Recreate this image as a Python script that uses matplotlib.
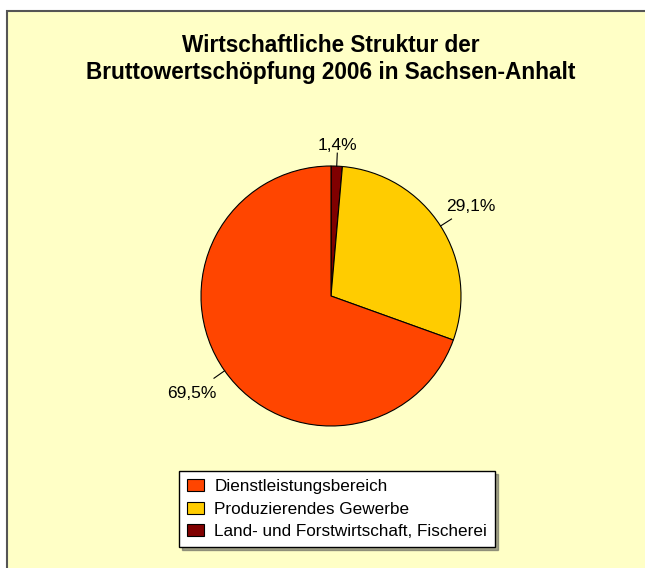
import numpy as np
import matplotlib
matplotlib.use("Agg")
import matplotlib.pyplot as plt
from matplotlib.patches import Rectangle, Patch

plt.rcParams['font.family'] = ['Liberation Sans', 'DejaVu Sans']

# data, in clockwise drawing order starting at 12 o'clock
sectors = ["Land- und Forstwirtschaft, Fischerei", "Produzierendes Gewerbe", "Dienstleistungsbereich"]
shares = [1.4, 29.1, 69.5]
share_labels = ["1,4%", "29,1%", "69,5%"]
colors = ["#800000", "#FFCC00", "#FF4500"]
legend_order = [2, 1, 0]

W, H = 645, 568
fig = plt.figure(figsize=(W / 100, H / 100), dpi=100)
fig.patch.set_facecolor("white")

# pale yellow chart area with dark frame at top/left
fig.patches.append(Rectangle((7 / W, -0.05), 1.1, 1 - 11 / H + 0.05, transform=fig.transFigure,
                             facecolor="#FFFFC6", edgecolor="#555555", linewidth=1.5, zorder=-10))

fig.text(331 / W, 1 - 45 / H, "Wirtschaftliche Struktur der", ha="center", va="center",
         fontsize=16.3, fontweight="bold")
fig.text(331 / W, 1 - 73 / H, "Bruttowertschöpfung 2006 in Sachsen-Anhalt", ha="center", va="center",
         fontsize=16.3, fontweight="bold")

cx, cy, r = 331, 296, 130
ax = fig.add_axes([(cx - r) / W, (H - cy - r) / H, 2 * r / W, 2 * r / H])

wedges, _ = ax.pie(shares, colors=colors, startangle=90, counterclock=False, radius=1,
                   wedgeprops=dict(edgecolor="black", linewidth=0.8))
ax.set_xlim(-1, 1)
ax.set_ylim(-1, 1)
ax.set_aspect("equal")
ax.axis("off")

label_dist = [1.16, 1.28, 1.31]
for w, lab, d in zip(wedges, share_labels, label_dist):
    ang = np.deg2rad((w.theta1 + w.theta2) / 2)
    c, s = np.cos(ang), np.sin(ang)
    ax.plot([c, 1.1 * c], [s, 1.1 * s], color="black", linewidth=0.8, clip_on=False)
    ax.text(d * c, d * s, lab, ha="center", va="center", fontsize=12.5)

handles = [Patch(facecolor=colors[i], edgecolor="black", linewidth=0.8) for i in legend_order]
fig.legend(handles, [sectors[i] for i in legend_order], loc="center",
           bbox_to_anchor=(337 / W, 1 - 509 / H), fontsize=12.3, frameon=True, fancybox=False,
           shadow=True, edgecolor="black", framealpha=1, handlelength=1.0, handleheight=0.7,
           handletextpad=0.6, labelspacing=0.45, borderpad=0.45)

fig.savefig("out.png", dpi=100)
